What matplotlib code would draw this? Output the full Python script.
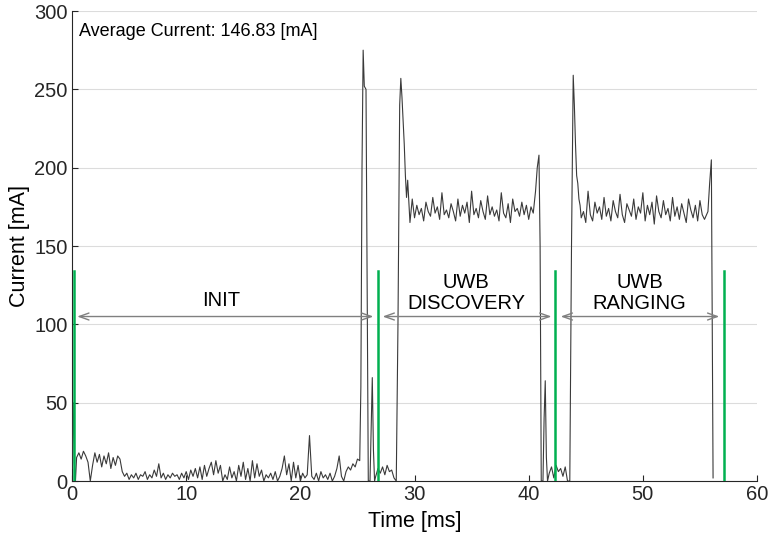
import numpy as np
import matplotlib
matplotlib.use("Agg")
import matplotlib.pyplot as plt

plt.rcParams['font.family'] = ['Liberation Sans', 'DejaVu Sans']

# sampled current trace [mA], pieces with their own start time / step
init_start = 0.4
init_step = 0.2
init_current = [15, 18, 14, 19, 16, 12, 0, 10, 18, 12, 17, 9, 16, 11, 18, 8, 15, 10, 16, 14, 6,
                3, 5, 1, 4, 2, 5, 1, 4, 3, 6, 1, 4, 2, 7, 3, 11, 2, 5, 1, 4,
                2, 5, 3, 4, 1, 5, 2, 6, 1, 7, 3, 8, 2, 9, 1, 10, 3, 8, 12, 4,
                13, 5, 10, 0, 4, 1, 9, 2, 6, 0, 10, 3, 12, 1, 8, 0, 13, 2, 11, 3,
                7, 0, 4, 2, 5, 1, 6, 0, 3, 8, 16, 4, 11, 0, 12, 2, 10, 0, 5, 2,
                4, 29, 3, 1, 5, 0, 6, 2, 4, 1, 5, 0, 3, 8, 16, 3, 0, 6, 9, 7,
                11, 9, 14, 13]

# sharp edges read point by point
edge1_time = [0.0, 0.1, 0.2, 0.3]
edge1_current = [8, 50, 12, 0]
edge2_time = [25.3, 25.4, 25.5, 25.6, 25.75, 25.85, 25.95, 26.1, 26.22, 26.3, 26.4, 26.5]
edge2_current = [60, 200, 275, 252, 250, 120, 0, 0, 40, 66, 20, 0]

low1_start = 26.6
low1_step = 0.2
low1_current = [3, 8, 5, 9, 4, 10, 6, 7, 2, 0]

edge3_time = [28.55, 28.7, 28.8, 28.9, 29.0, 29.1, 29.2, 29.3, 29.4, 29.5]
edge3_current = [100, 240, 257, 245, 230, 215, 195, 181, 192, 178]

disc_start = 29.6
disc_step = 0.2
disc_current = [165, 180, 168, 176, 170, 174, 166, 178, 172, 169, 181, 171, 175, 167, 184,
                170, 173, 168, 177, 172, 166, 180, 169, 176, 171, 178, 165, 185, 170, 174,
                168, 179, 172, 167, 182, 170, 175, 169, 173, 166, 184, 171, 168, 177, 165,
                180, 172, 174, 169, 178, 170, 176, 167, 175, 171]

edge4_time = [40.6, 40.75, 40.9, 41.0, 41.1, 41.25, 41.35, 41.45, 41.55, 41.65]
edge4_current = [185, 200, 208, 150, 0, 0, 40, 64, 15, 0]

low2_start = 41.8
low2_step = 0.2
low2_current = [5, 9, 2, 10, 6, 8, 3, 9, 0]

edge5_time = [43.6, 43.75, 43.9, 44.0, 44.1, 44.2, 44.3, 44.4, 44.5]
edge5_current = [0, 150, 259, 240, 215, 195, 190, 180, 176]

rang_start = 44.6
rang_step = 0.2
rang_current = [168, 172, 165, 185, 170, 166, 178, 171, 175, 167, 181, 169, 174, 166, 179,
                172, 168, 183, 170, 165, 177, 173, 169, 180, 167, 175, 171, 184, 166, 176,
                170, 178, 164, 182, 172, 168, 179, 170, 174, 166, 181, 169, 175, 167, 177,
                171, 165, 180, 173, 168, 176, 166, 179, 170, 167]

edge6_time = [55.7, 55.85, 56.0, 56.08, 56.15]
edge6_current = [172, 190, 205, 100, 2]

markers = [0.2, 26.8, 42.3, 57.1]
marker_top = 134
phases = ["INIT", "UWB\nDISCOVERY", "UWB\nRANGING"]
phase_start = [0.45, 27.2, 42.8]
phase_end = [26.4, 42.0, 56.7]
phase_text_x = [13.1, 34.5, 49.7]
phase_text_y = [115, 120, 120]
arrow_y = 105
avg_current = 146.83


def regular(start, step, values):
    return list(start + step * np.arange(len(values))), list(values)


pieces = [
    (edge1_time, edge1_current),
    regular(init_start, init_step, init_current),
    (edge2_time, edge2_current),
    regular(low1_start, low1_step, low1_current),
    (edge3_time, edge3_current),
    regular(disc_start, disc_step, disc_current),
    (edge4_time, edge4_current),
    regular(low2_start, low2_step, low2_current),
    (edge5_time, edge5_current),
    regular(rang_start, rang_step, rang_current),
    (edge6_time, edge6_current),
]
t = []
current = []
for pt, pc in pieces:
    t += list(pt)
    current += list(pc)

fig = plt.figure(figsize=(7.72, 5.42), dpi=100)
ax = fig.add_axes([0.0933, 0.1125, 0.8873, 0.8672])

ax.plot(t, current, color="#3a3a3a", lw=0.8, zorder=3)

for m in markers:
    ax.plot([m, m], [0, marker_top], color="#00b050", lw=1.8, zorder=4)

for name, a, b, tx, ty in zip(phases, phase_start, phase_end, phase_text_x, phase_text_y):
    ax.annotate("", xy=(b, arrow_y), xytext=(a, arrow_y),
                arrowprops=dict(arrowstyle="<->,head_length=0.7,head_width=0.25",
                                color="#808080", lw=1.0, shrinkA=0, shrinkB=0), zorder=5)
    ax.text(tx, ty, name, ha="center", va="center", fontsize=14.5, linespacing=1.1, zorder=5)

ax.text(0.6, 287, "Average Current: {:.2f} [mA]".format(avg_current), fontsize=13,
        va="center", ha="left")

ax.set_xlim(0, 60)
ax.set_ylim(0, 300)
ax.set_xticks(range(0, 61, 10))
ax.set_yticks(range(0, 301, 50))
ax.tick_params(direction="in", length=4, labelsize=14.5, colors="#262626", pad=3)
ax.yaxis.grid(True, color="#dcdcdc", lw=0.8)
ax.set_axisbelow(True)
for s in ["top", "right"]:
    ax.spines[s].set_visible(False)
for s in ["left", "bottom"]:
    ax.spines[s].set_color("#262626")
ax.set_xlabel("Time [ms]", fontsize=15.5, labelpad=5)
ax.set_ylabel("Current [mA]", fontsize=15.5, labelpad=3)

fig.savefig("out.png", dpi=100)
